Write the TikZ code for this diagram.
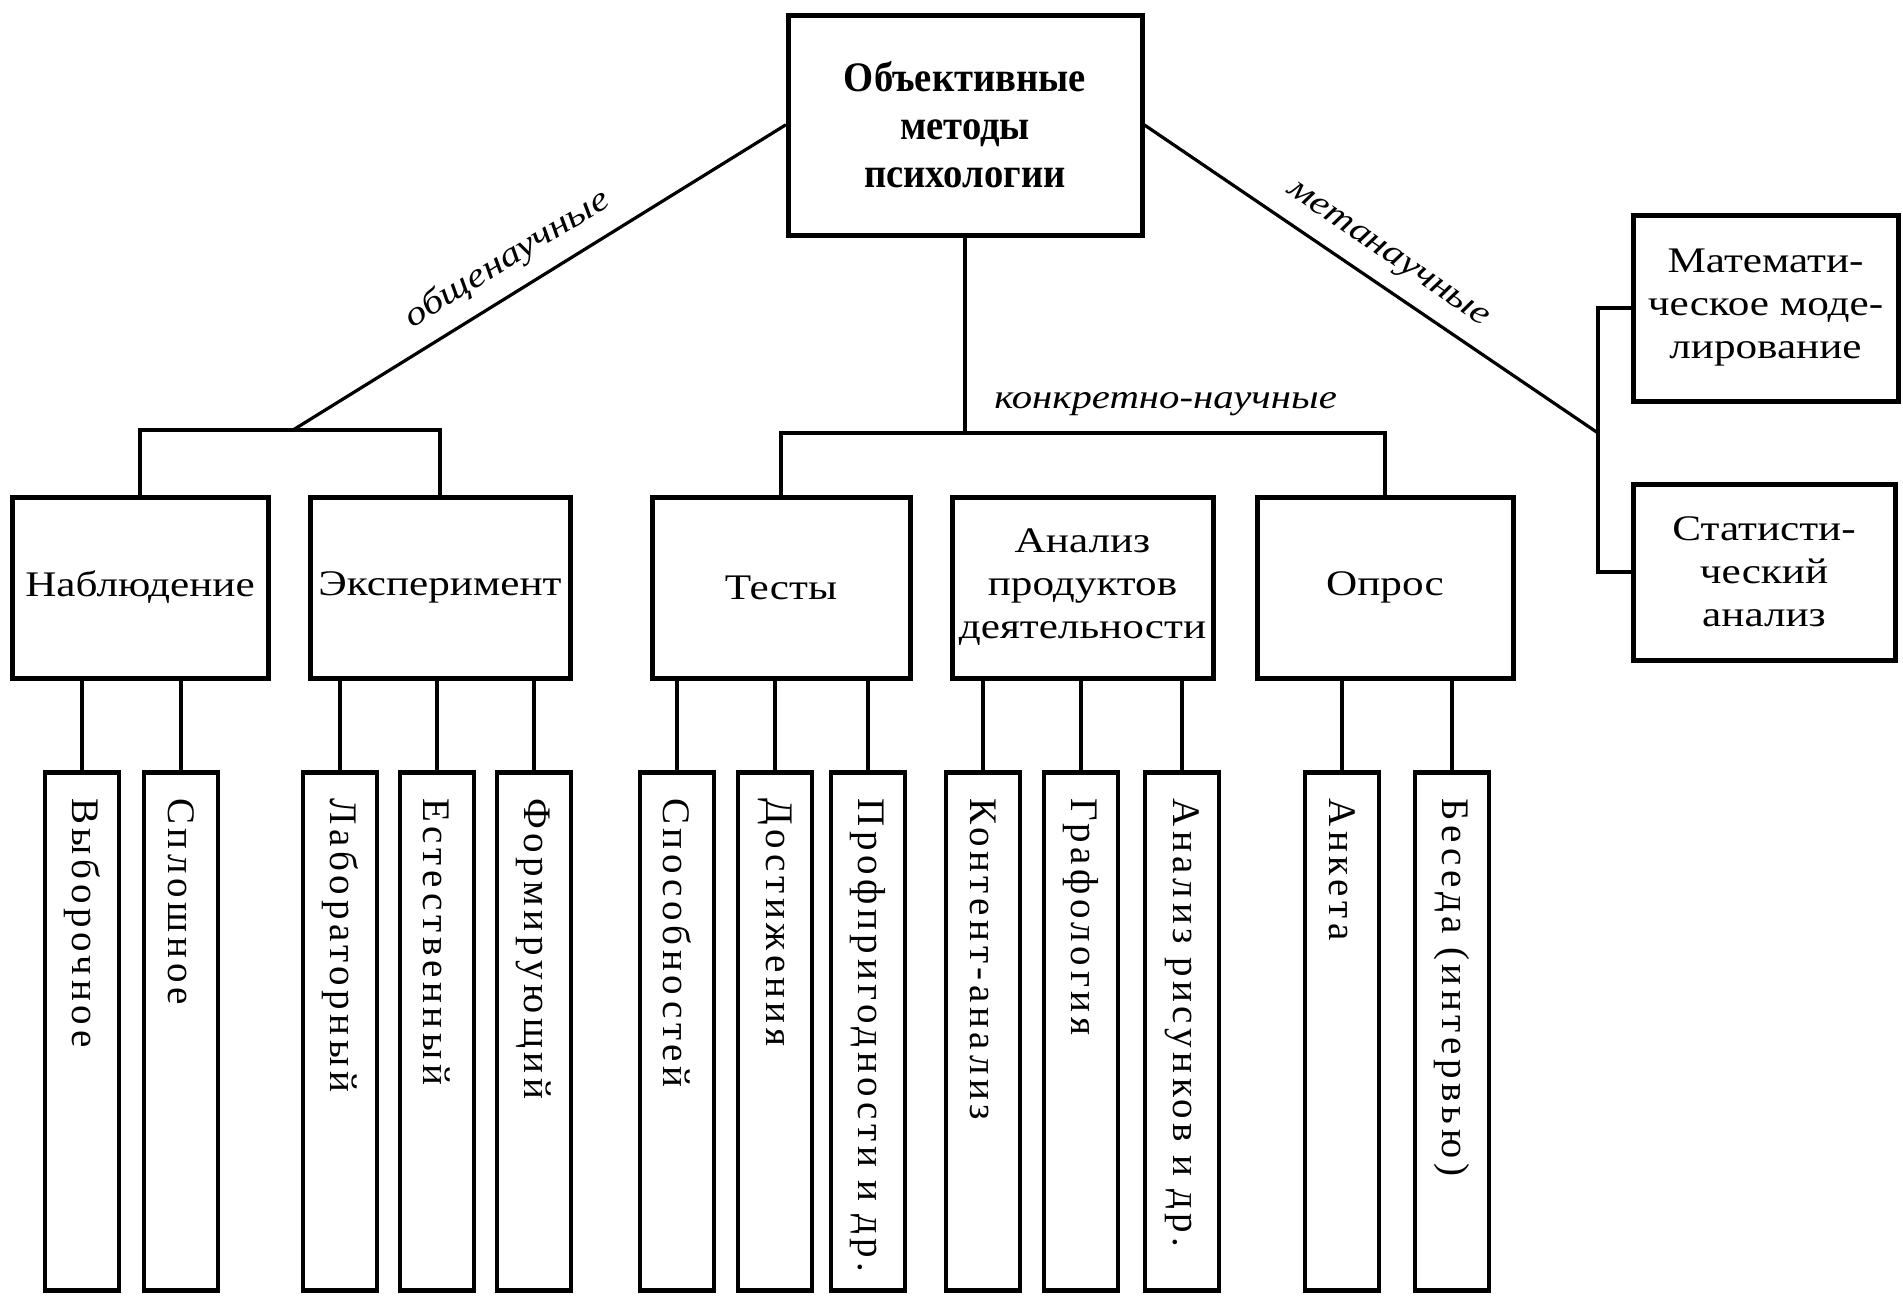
\documentclass[tikz,border=0pt]{standalone}
\usepackage{fontspec}
\setmainfont{Liberation Serif}
\newfontfamily\widefont[FakeStretch=1.2]{Liberation Serif}
\newfontfamily\narrowfont[FakeStretch=0.92]{Liberation Serif}
\newfontfamily\leaffont[LetterSpace=12]{Liberation Serif}
\usetikzlibrary{positioning, calc}

\begin{document}
\begin{tikzpicture}[x=0.5pt, y=-0.5pt, line cap=round,
        box/.style={draw, line width=2.5pt, align=center, inner sep=0pt, font=\widefont\fontsize{18}{21.5}\selectfont},
        leaf/.style={draw, line width=2.3pt, rotate=-90, anchor=west, align=left, text width=233pt, inner xsep=13pt, inner ysep=0pt, minimum height=37pt, font=\leaffont\fontsize{19.5}{22}\selectfont},
        link/.style={line width=1.6pt},
        tag/.style={font=\widefont\itshape\fontsize{17}{20}\selectfont}]
        \useasboundingbox (0,0) rectangle (1903,1296);

        \node[box, minimum width=177pt, minimum height=110pt, font=\narrowfont\bfseries\fontsize{21}{24}\selectfont] (root) at (965,125) {Объективные\\методы\\психологии};

        \node[box, minimum width=128pt, minimum height=90.5pt] (nabl) at (140,587.5) {Наблюдение};
        \node[box, minimum width=130pt, minimum height=90.5pt] (exper) at (440,587.5) {Эксперимент};
        \node[box, minimum width=129pt, minimum height=90.5pt] (tests) at (781,587.5) {Тесты};
        \node[box, minimum width=130.5pt, minimum height=90.5pt] (prod) at (1082.5,587.5) {Анализ\\продуктов\\деятельности};
        \node[box, minimum width=128pt, minimum height=90.5pt] (opros) at (1385,587.5) {Опрос};
        \node[box, minimum width=132.5pt, minimum height=93pt] (matmod) at (1765.5,308) {Математи-\\ческое моде-\\лирование};
        \node[box, minimum width=131pt, minimum height=88pt] (stat) at (1764,572) {Статисти-\\ческий\\анализ};

        \node[leaf] (vyb) at (82,770) {Выборочное};
        \node[leaf] (splo) at (181,770) {Сплошное};
        \node[leaf] (lab) at (340,770) {Лабораторный};
        \node[leaf] (est) at (437,770) {Естественный};
        \node[leaf] (form) at (534,770) {Формирующий};
        \node[leaf] (spos) at (677,770) {Способностей};
        \node[leaf] (dost) at (775,770) {Достижения};
        \node[leaf] (prof) at (868,770) {Профпригодности~и~др.};
        \node[leaf] (kont) at (983,770) {Контент-анализ};
        \node[leaf] (graf) at (1081,770) {Графология};
        \node[leaf] (risu) at (1182,770) {Анализ~рисунков~и~др.};
        \node[leaf] (anke) at (1342,770) {Анкета};
        \node[leaf] (bese) at (1452,770) {Беседа~(интервью)};

        \coordinate (obar) at (293,430);
        \coordinate (kbar) at (965,433);
        \coordinate (mbar) at (1598,433);

        \draw[link] (obar) -- node[tag, pos=0.47, sloped, above=4pt] {общенаучные} (root.west);
        \draw[link] (nabl.north) |- (obar) -| (exper.north);
        \draw[link] (root.south) -- (kbar) node[tag, anchor=base west, xshift=10.5pt, yshift=12.5pt] {конкретно-научные};
        \draw[link] (tests.north) |- (kbar) -| (opros.north);
        \draw[link] (root.east) -- node[tag, pos=0.5, sloped, above=4pt] {метанаучные} (mbar);
        \draw[link] (matmod.west) -| (mbar) |- (stat.west);

        \draw[link] (vyb.west) -- (vyb.west |- nabl.south);
        \draw[link] (splo.west) -- (splo.west |- nabl.south);
        \draw[link] (lab.west) -- (lab.west |- exper.south);
        \draw[link] (est.west) -- (est.west |- exper.south);
        \draw[link] (form.west) -- (form.west |- exper.south);
        \draw[link] (spos.west) -- (spos.west |- tests.south);
        \draw[link] (dost.west) -- (dost.west |- tests.south);
        \draw[link] (prof.west) -- (prof.west |- tests.south);
        \draw[link] (kont.west) -- (kont.west |- prod.south);
        \draw[link] (graf.west) -- (graf.west |- prod.south);
        \draw[link] (risu.west) -- (risu.west |- prod.south);
        \draw[link] (anke.west) -- (anke.west |- opros.south);
        \draw[link] (bese.west) -- (bese.west |- opros.south);
    \end{tikzpicture}
\end{document}
